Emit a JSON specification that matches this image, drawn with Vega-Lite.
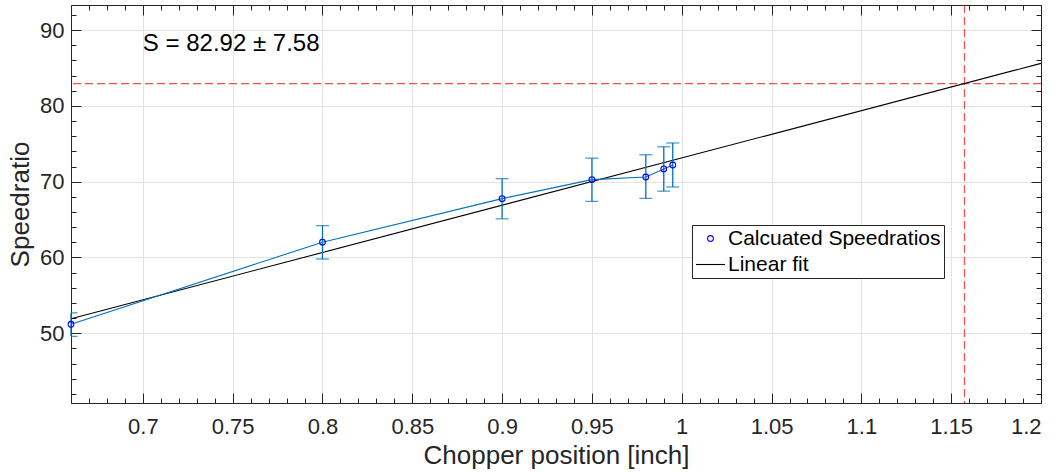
{
  "$schema": "https://vega.github.io/schema/vega-lite/v6.json",
  "width": 970,
  "height": 398,
  "autosize": "none",
  "padding": {"left": 71, "top": 5, "right": 23, "bottom": 71},
  "background": "white",
  "datasets": {
    "pts": [
      {"x": 0.66, "y": 51.19, "lo": 49.6, "hi": 52.7, "series": "Calcuated Speedratios"},
      {"x": 0.8, "y": 62.02, "lo": 59.8, "hi": 64.2, "series": "Calcuated Speedratios"},
      {"x": 0.9, "y": 67.76, "lo": 65.1, "hi": 70.4, "series": "Calcuated Speedratios"},
      {"x": 0.95, "y": 70.27, "lo": 67.4, "hi": 73.1, "series": "Calcuated Speedratios"},
      {"x": 0.98, "y": 70.62, "lo": 67.8, "hi": 73.55, "series": "Calcuated Speedratios"},
      {"x": 0.99, "y": 71.68, "lo": 68.75, "hi": 74.6, "series": "Calcuated Speedratios"},
      {"x": 0.995, "y": 72.2, "lo": 69.3, "hi": 75.1, "series": "Calcuated Speedratios"}
    ],
    "fit": [
      {"x": 0.66, "y": 51.93},
      {"x": 1.2, "y": 85.6}
    ],
    "ref": [
      {"xs": 1.1574, "ys": 82.92}
    ],
    "note": [
      {"x": 0.7, "y": 88.1, "label": "S = 82.92 ± 7.58"}
    ]
  },
  "layer": [
    {
      "data": {"name": "ref"},
      "mark": {"type": "rule", "color": "#ff0000", "opacity": 0.7, "strokeWidth": 1.2, "strokeDash": [8, 4]},
      "encoding": {
        "x": {"field": "xs", "type": "quantitative", "scale": {"domain": [0.66, 1.2], "nice": false, "zero": false}, "axis": null}
      }
    },
    {
      "data": {"name": "ref"},
      "mark": {"type": "rule", "color": "#ff0000", "opacity": 0.7, "strokeWidth": 1.2, "strokeDash": [8, 4]},
      "encoding": {
        "y": {"field": "ys", "type": "quantitative", "scale": {"domain": [40.81, 93.3], "nice": false, "zero": false}, "axis": null}
      }
    },
    {
      "data": {"name": "fit"},
      "mark": {"type": "line", "color": "#000000", "strokeWidth": 1.1},
      "encoding": {
        "x": {"field": "x", "type": "quantitative", "scale": {"domain": [0.66, 1.2], "nice": false, "zero": false},
              "axis": {"orient": "bottom", "values": [0.66,0.67,0.68,0.69,0.7,0.71,0.72,0.73,0.74,0.75,0.76,0.77,0.78,0.79,0.8,0.81,0.82,0.83,0.84,0.85,0.86,0.87,0.88,0.89,0.9,0.91,0.92,0.93,0.94,0.95,0.96,0.97,0.98,0.99,1,1.01,1.02,1.03,1.04,1.05,1.06,1.07,1.08,1.09,1.1,1.11,1.12,1.13,1.14,1.15,1.16,1.17,1.18,1.19,1.2], "labels": false, "grid": false, "domain": false, "tickSize": -5, "title": null}},
        "y": {"field": "y", "type": "quantitative", "scale": {"domain": [40.81, 93.3], "nice": false, "zero": false},
              "axis": {"orient": "left", "values": [42,44,46,48,50,52,54,56,58,60,62,64,66,68,70,72,74,76,78,80,82,84,86,88,90,92], "labels": false, "grid": false, "domain": false, "tickSize": -5, "title": null}}
      }
    },
    {
      "data": {"name": "pts"},
      "mark": {"type": "line", "color": "#0072BD", "strokeWidth": 1.1},
      "encoding": {
        "x": {"field": "x", "type": "quantitative", "scale": {"domain": [0.66, 1.2], "nice": false, "zero": false},
              "axis": {"orient": "bottom", "values": [0.7,0.75,0.8,0.85,0.9,0.95,1,1.05,1.1,1.15,1.2], "labels": false, "grid": false, "domain": false, "tickSize": -10, "title": null}},
        "y": {"field": "y", "type": "quantitative", "scale": {"domain": [40.81, 93.3], "nice": false, "zero": false},
              "axis": {"orient": "left", "values": [50,60,70,80,90], "labels": false, "grid": false, "domain": false, "tickSize": -10, "title": null}}
      }
    },
    {
      "data": {"name": "pts"},
      "mark": {"type": "rule", "color": "#0072BD", "strokeWidth": 1.3},
      "encoding": {
        "x": {"field": "x", "type": "quantitative", "scale": {"domain": [0.66, 1.2], "nice": false, "zero": false},
              "axis": {"orient": "top", "values": [0.7,0.75,0.8,0.85,0.9,0.95,1,1.05,1.1,1.15,1.2], "labels": false, "grid": false, "domain": true, "tickSize": -10, "title": null}},
        "y": {"field": "lo", "type": "quantitative", "scale": {"domain": [40.81, 93.3], "nice": false, "zero": false},
              "axis": {"orient": "right", "values": [50,60,70,80,90], "labels": false, "grid": false, "domain": true, "tickSize": -10, "title": null}},
        "y2": {"field": "hi"}
      }
    },
    {
      "data": {"name": "pts"},
      "mark": {"type": "tick", "orient": "horizontal", "color": "#0072BD", "size": 13, "thickness": 1.3, "clip": true},
      "encoding": {
        "x": {"field": "x", "type": "quantitative", "scale": {"domain": [0.66, 1.2], "nice": false, "zero": false},
              "axis": {"orient": "top", "values": [0.66,0.67,0.68,0.69,0.7,0.71,0.72,0.73,0.74,0.75,0.76,0.77,0.78,0.79,0.8,0.81,0.82,0.83,0.84,0.85,0.86,0.87,0.88,0.89,0.9,0.91,0.92,0.93,0.94,0.95,0.96,0.97,0.98,0.99,1,1.01,1.02,1.03,1.04,1.05,1.06,1.07,1.08,1.09,1.1,1.11,1.12,1.13,1.14,1.15,1.16,1.17,1.18,1.19,1.2], "labels": false, "grid": false, "domain": false, "tickSize": -5, "title": null}},
        "y": {"field": "hi", "type": "quantitative", "scale": {"domain": [40.81, 93.3], "nice": false, "zero": false},
              "axis": {"orient": "right", "values": [42,44,46,48,50,52,54,56,58,60,62,64,66,68,70,72,74,76,78,80,82,84,86,88,90,92], "labels": false, "grid": false, "domain": false, "tickSize": -5, "title": null}}
      }
    },
    {
      "data": {"name": "pts"},
      "mark": {"type": "tick", "orient": "horizontal", "color": "#0072BD", "size": 13, "thickness": 1.3, "clip": true},
      "encoding": {
        "x": {"field": "x", "type": "quantitative", "scale": {"domain": [0.66, 1.2], "nice": false, "zero": false}, "axis": null},
        "y": {"field": "lo", "type": "quantitative", "scale": {"domain": [40.81, 93.3], "nice": false, "zero": false}, "axis": null}
      }
    },
    {
      "data": {"name": "note"},
      "mark": {"type": "text", "align": "left", "baseline": "middle", "font": "Liberation Sans", "fontSize": 24, "color": "#000000"},
      "encoding": {
        "x": {"field": "x", "type": "quantitative", "scale": {"domain": [0.66, 1.2], "nice": false, "zero": false}, "axis": null},
        "y": {"field": "y", "type": "quantitative", "scale": {"domain": [40.81, 93.3], "nice": false, "zero": false}, "axis": null},
        "text": {"field": "label"}
      }
    },
    {
      "data": {"name": "pts"},
      "mark": {"type": "point", "filled": false, "strokeWidth": 1.1, "opacity": 1},
      "encoding": {
        "x": {"field": "x", "type": "quantitative", "scale": {"domain": [0.66, 1.2], "nice": false, "zero": false},
              "axis": {"orient": "bottom", "values": [0.7,0.75,0.8,0.85,0.9,0.95,1,1.05,1.1,1.15,1.2], "format": "~g", "ticks": false, "grid": true, "domain": true, "labelPadding": 13, "title": "Chopper position [inch]", "titlePadding": 5}},
        "y": {"field": "y", "type": "quantitative", "scale": {"domain": [40.81, 93.3], "nice": false, "zero": false},
              "axis": {"orient": "left", "values": [50,60,70,80,90], "ticks": false, "grid": true, "domain": true, "labelPadding": 7, "title": "Speedratio", "titlePadding": 6}},
        "color": {"field": "series", "type": "nominal", "scale": {"domain": ["Calcuated Speedratios", "Linear fit"], "range": ["#0000ff", "#000000"]},
                  "legend": {"orient": "none", "legendX": 621, "legendY": 220, "title": null}},
        "shape": {"field": "series", "type": "nominal", "scale": {"domain": ["Calcuated Speedratios", "Linear fit"], "range": ["circle", "stroke"]},
                  "legend": {"orient": "none", "legendX": 621, "legendY": 220, "title": null}},
        "size": {"field": "series", "type": "nominal", "scale": {"domain": ["Calcuated Speedratios", "Linear fit"], "range": [33, 841]},
                  "legend": {"orient": "none", "legendX": 621, "legendY": 220, "title": null}}
      }
    }
  ],
  "resolve": {"axis": {"x": "independent", "y": "independent"}},
  "config": {
    "view": {"stroke": null},
    "axis": {
      "domainColor": "#262626",
      "tickColor": "#262626",
      "labelColor": "#262626",
      "titleColor": "#262626",
      "labelFont": "Liberation Sans",
      "titleFont": "Liberation Sans",
      "labelFontSize": 22,
      "titleFontSize": 26,
      "titleFontWeight": "normal",
      "gridColor": "#e3e3e3",
      "gridWidth": 1,
      "domainWidth": 1,
      "tickWidth": 1
    },
    "legend": {
      "labelFont": "Liberation Sans",
      "labelFontSize": 21,
      "labelColor": "#000000",
      "strokeColor": "#262626",
      "fillColor": "#ffffff",
      "padding": 3,
      "rowPadding": -2,
      "labelOffset": 2,
      "symbolStrokeWidth": 1.1,
      "labelLimit": 400
    }
  }
}
